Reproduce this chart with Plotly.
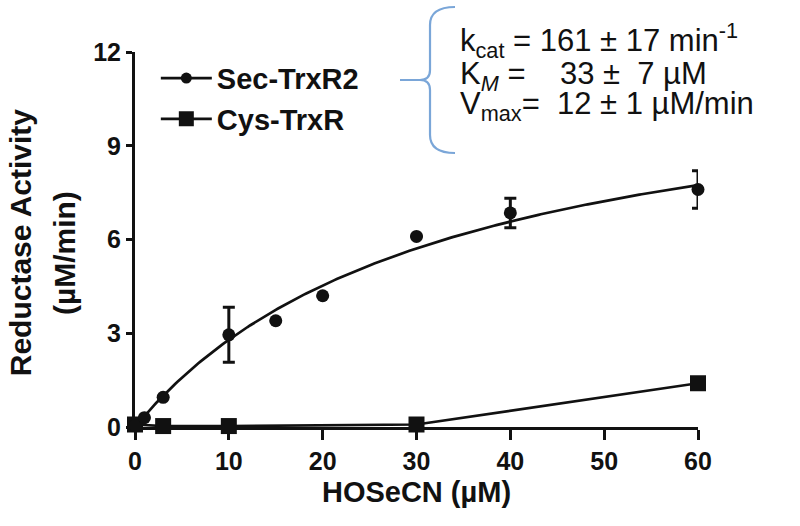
import numpy as np
import plotly.graph_objects as go

# ---- data ----
sec_x = [0, 1, 3, 10, 15, 20, 30, 40, 60]
sec_y = [0.05, 0.3, 0.95, 2.95, 3.4, 4.2, 6.1, 6.85, 7.6]
sec_err = [0, 0, 0, 0.88, 0, 0, 0, 0.47, 0.6]

cys_x = [0, 3, 10, 30, 60]
cys_y = [0.08, 0.03, 0.03, 0.08, 1.4]

# Michaelis-Menten fit parameters printed on the chart
vmax = 12.0
km = 33.0

x_ticks = [0, 10, 20, 30, 40, 50, 60]
y_ticks = [0, 3, 6, 9, 12]

fit_x = np.linspace(0, 60, 241)
fit_y = vmax * fit_x / (km + fit_x)

FONT = "Liberation Sans, Arial, sans-serif"
BLACK = "#111111"

fig = go.Figure()

# fit curve
fig.add_trace(go.Scatter(x=fit_x, y=fit_y, mode="lines",
                         line=dict(color=BLACK, width=2.7),
                         showlegend=False, hoverinfo="skip"))
# Cys-TrxR
fig.add_trace(go.Scatter(x=cys_x, y=cys_y, mode="lines+markers", name="Cys-TrxR",
                         line=dict(color=BLACK, width=2.7),
                         marker=dict(symbol="square", size=16, color=BLACK),
                         cliponaxis=False, showlegend=False))
# Sec-TrxR2 points
fig.add_trace(go.Scatter(x=sec_x, y=sec_y, mode="markers", name="Sec-TrxR2",
                         marker=dict(symbol="circle", size=13, color=BLACK),
                         error_y=dict(type="data", array=sec_err, visible=True,
                                      color=BLACK, thickness=3, width=6),
                         cliponaxis=False, showlegend=False))
# legend entries
fig.add_trace(go.Scatter(x=[None], y=[None], mode="lines+markers", name="<b>Sec-TrxR2</b>",
                         line=dict(color=BLACK, width=2.7),
                         marker=dict(symbol="circle", size=11, color=BLACK)))
fig.add_trace(go.Scatter(x=[None], y=[None], mode="lines+markers", name="<b>Cys-TrxR</b>",
                         line=dict(color=BLACK, width=2.7),
                         marker=dict(symbol="square", size=15, color=BLACK)))

axis_common = dict(showgrid=False, zeroline=False, showline=True, linecolor=BLACK,
                   linewidth=3, ticks="outside", tickcolor=BLACK, tickwidth=3,
                   tickfont=dict(family=FONT, size=25, color=BLACK, weight="bold"))

fig.update_xaxes(range=[0, 60], tickvals=x_ticks, ticklen=10,
                 title=dict(text="<b>HOSeCN (µM)</b>",
                            font=dict(family=FONT, size=29, color=BLACK), standoff=8),
                 **axis_common)
fig.update_yaxes(range=[0, 12], tickvals=y_ticks, ticklen=6, **axis_common)

annos = []
# y-axis title (two lines)
annos.append(dict(text="<b>Reductase Activity</b>", x=-0.204, y=0.493, xref="paper", yref="paper",
                  textangle=-90, showarrow=False, xanchor="center", yanchor="middle",
                  font=dict(family=FONT, size=30, color=BLACK)))
annos.append(dict(text="<b>(µM/min)</b>", x=-0.126, y=0.464, xref="paper", yref="paper",
                  textangle=-90, showarrow=False, xanchor="center", yanchor="middle",
                  font=dict(family=FONT, size=30, color=BLACK)))
# kinetic parameters
param_lines = [
    ("k<sub>cat</sub> = 161 ± 17 min<sup>-1</sup>", 1.030),
    ("K<sub><i>M</i></sub> =\u00a0\u00a0\u00a0\u00a033 ± \u00a07 µM", 0.937),
    ("V<sub>max</sub>=\u00a0 12 ± 1 µM/min", 0.857),
]
for txt, yy in param_lines:
    annos.append(dict(text=txt, x=(458 - 135) / 563, y=yy, xref="paper", yref="paper",
                      showarrow=False, xanchor="left", yanchor="middle",
                      font=dict(family=FONT, size=31, color=BLACK)))

brace = ("M0.5684,1.12 Q0.5240,1.12 0.5240,1.072 L0.5240,0.952 "
         "Q0.5240,0.9253 0.5062,0.9253 L0.4707,0.9253 "
         "M0.5062,0.9253 Q0.5240,0.9253 0.5240,0.8987 "
         "L0.5240,0.7787 Q0.5240,0.7307 0.5684,0.7307")

fig.update_layout(
    width=800, height=526,
    margin=dict(l=135, r=102, t=52, b=99),
    paper_bgcolor="white", plot_bgcolor="white",
    annotations=annos,
    legend=dict(x=0.037, y=0.998, xanchor="left", yanchor="top",
                bgcolor="rgba(0,0,0,0)", tracegroupgap=0, itemwidth=51,
                font=dict(family=FONT, size=29, color=BLACK)),
    shapes=[dict(type="path", xref="paper", yref="paper", path=brace,
                 line=dict(color="#7aa6d8", width=2.2))],
)

fig.write_html("out.html", config={"displayModeBar": False},
               post_script="document.body.style.margin='0px';")
